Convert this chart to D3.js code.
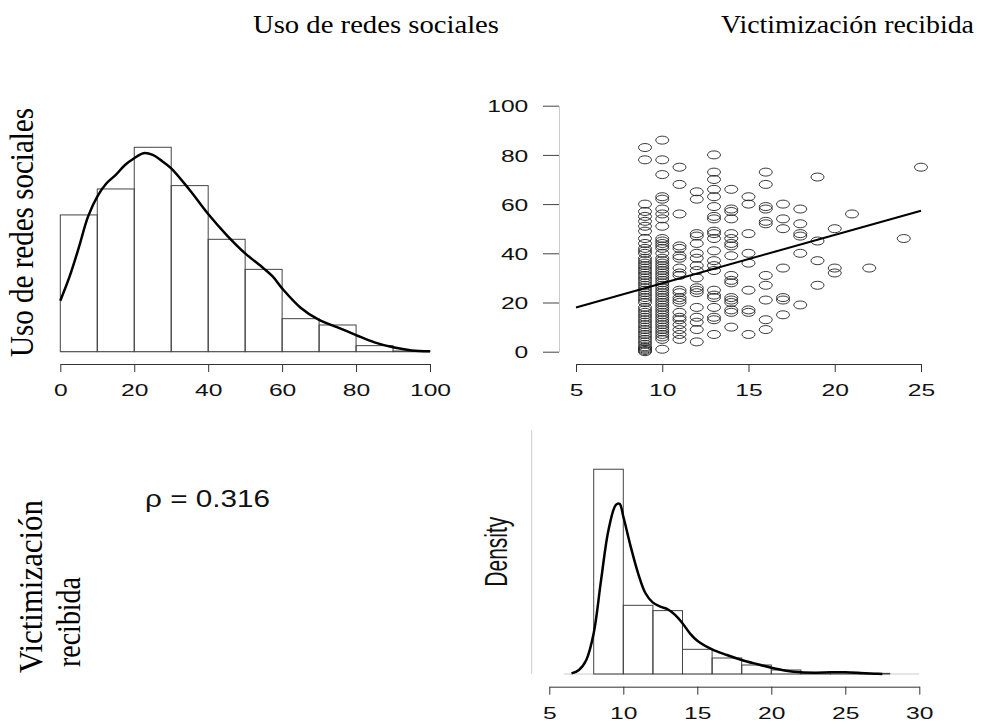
<!DOCTYPE html>
<html><head><meta charset="utf-8">
<script src="https://cdn.jsdelivr.net/npm/d3@7"></script>
<style>body{margin:0;background:#fff} svg{display:block}</style>
</head><body>
<svg id="c" width="983" height="726"></svg>
<script>
// ---------- DATA ----------
const varNames = ["Uso de redes sociales", "Victimización recibida"];
const rhoLabel = "\u03C1 = 0.316";

// Histogram + density of "Uso de redes sociales"
const usoBinEdges = [0,10,20,30,40,50,60,70,80,90,100];
const usoHistDensity = [0.01470,0.01749,0.02197,0.01785,0.01208,0.00885,0.00355,0.00287,0.00065,0.00007];
const usoKdeX = [0,2.5,5,7.5,10,12.5,15,17.5,20,22.5,25,27.5,30,35,40,45,50,55,57.5,60,65,70,75,80,85,90,95,100];
const usoKdeY = [0.00548,0.00806,0.01118,0.01452,0.01667,0.01810,0.01900,0.02007,0.02079,0.02133,0.02115,0.02050,0.01971,0.01738,0.01480,0.01254,0.01057,0.00896,0.00806,0.00681,0.00473,0.00341,0.00262,0.00179,0.00100,0.00047,0.00014,0.00004];
const usoTicks = [0,20,40,60,80,100];

// Histogram + density of "Victimización recibida"
const victBinEdges = [8,10,12,14,16,18,20,22,24,26,28];
const victHistDensity = [0.2597,0.0871,0.0804,0.0313,0.0203,0.0114,0.0051,0.0017,0.0021,0.0008];
const victKdeX = [6.5,7,7.5,8,8.5,9,9.5,9.75,10,10.5,11,11.5,12,12.5,13,13.5,14,14.5,15,16,17,18,19,20,21,22,23,24,25,26,27,27.5];
const victKdeY = [0.0008,0.0051,0.0178,0.0516,0.1193,0.1827,0.2145,0.2157,0.1997,0.1616,0.1277,0.1024,0.0905,0.0854,0.0821,0.0749,0.0643,0.0516,0.0423,0.0313,0.0241,0.0178,0.0127,0.0080,0.0042,0.0021,0.0017,0.0021,0.0021,0.0013,0.0004,0];
const victTicks = [5,10,15,20,25,30];

// Scatter: Victimización (x) vs Uso de redes sociales (y), grouped by x value
const scatterColumns = [9,10,11,12,13,14,15,16,17,18,19,20,21,22,24,25];
const scatterUsoByColumn = [
  [0,0.5,1,1.5,2,3,4,5,6,7,8,9,10,11,12,13,14,15,16,17,18,20,21,22,23,24,25,26,27,28,29,30,31,32,33,34,35,36,37,38,40,41,42,44,46,49,51,53,55,57,60,78,83],
  [1,5,6,7,8,9,10,11,12,13,14,15,16,17,18,19,20,21,22,23,24,25,26,27,28,29,30,31,32,33,34,35,36,37,38,40,42,43,44,45,46,51,54,56,58,62,63,72,78,86],
  [5,7,9,11,13,14,16,20,21,22,24,25,31,32,34,38,39,42,43,56,68,75],
  [4,9,12,14,18,24,25,26,30,33,35,38,40,44,47,48,62,65],
  [7,13,14,18,22,23,25,33,35,37,41,46,48,49,54,55,59,63,66,70,73,80],
  [10,16,17,20,21,22,28,29,31,39,43,44,46,48,54,57,58,66],
  [7,16,17,25,36,40,48,60,63],
  [9,13,21,27,31,52,53,58,59,68,73],
  [15,21,22,34,50,54,60],
  [19,40,47,48,52,58],
  [27,37,45,71],
  [32,34,50],
  [56],
  [34],
  [46],
  [75]
];
const scatterXTicks = [5,10,15,20,25];
const scatterYTicks = [0,20,40,60,80,100];
const fitX = [5,25];
const fitY = [18.0,57.3];

// ---------- DRAW ----------
const svg = d3.select("#c");
const SX = 1.45; // horizontal stretch of glyphs
const sans = "'Liberation Sans', Arial, sans-serif";
const serif = "'Liberation Serif', 'Times New Roman', serif";

function bottomAxis(g, scale, ticks) {
  g.call(d3.axisBottom(scale).tickValues(ticks).tickSize(8).tickSizeOuter(0).tickFormat(d3.format("d")));
  g.select(".domain").attr("stroke","#333").attr("stroke-width",1);
  g.selectAll(".tick line").attr("stroke","#333");
  g.selectAll(".tick text").attr("y",32).attr("dy",0)
    .attr("transform",`scale(${SX},1)`)
    .attr("font-family",sans).attr("font-size",17).attr("fill","#111");
}

// --- Top-left histogram
const xUso = d3.scaleLinear().domain([0,100]).range([60.3,430]);
const yUso = d3.scaleLinear().domain([0,0.022]).range([351.7,147.0]);
const gTL = svg.append("g");
gTL.append("line").attr("x1",xUso(0)).attr("x2",xUso(100)).attr("y1",yUso(0)).attr("y2",yUso(0)).attr("stroke","#bbb");
gTL.selectAll("rect").data(usoHistDensity).join("rect")
  .attr("x",(d,i)=>xUso(usoBinEdges[i]))
  .attr("width",(d,i)=>xUso(usoBinEdges[i+1])-xUso(usoBinEdges[i]))
  .attr("y",d=>yUso(d)).attr("height",d=>yUso(0)-yUso(d))
  .attr("fill","none").attr("stroke","#444").attr("stroke-width",1);
gTL.append("path").datum(usoKdeX.map((x,i)=>[x,usoKdeY[i]]))
  .attr("d",d3.line().x(d=>xUso(d[0])).y(d=>yUso(d[1])).curve(d3.curveCatmullRom))
  .attr("fill","none").attr("stroke","#000").attr("stroke-width",2.5);
gTL.append("g").attr("transform","translate(0,364)").call(g=>bottomAxis(g,xUso,usoTicks));

// --- Top-right scatter
const xSc = d3.scaleLinear().domain([5,25]).range([576,921]);
const ySc = d3.scaleLinear().domain([0,100]).range([351.7,105.7]);
const gTR = svg.append("g");
const pts = [];
scatterColumns.forEach((c,i)=>scatterUsoByColumn[i].forEach(v=>pts.push([c,v])));
gTR.selectAll("ellipse").data(pts).join("ellipse")
  .attr("cx",d=>xSc(d[0])).attr("cy",d=>ySc(d[1]))
  .attr("rx",6.5).attr("ry",4)
  .attr("fill","none").attr("stroke","#222").attr("stroke-width",0.9);
gTR.append("line")
  .attr("x1",xSc(fitX[0])).attr("y1",ySc(fitY[0]))
  .attr("x2",xSc(fitX[1])).attr("y2",ySc(fitY[1]))
  .attr("stroke","#000").attr("stroke-width",2);
gTR.append("g").attr("transform","translate(0,364)").call(g=>bottomAxis(g,xSc,scatterXTicks));
const yAx = gTR.append("g").attr("transform","translate(559,0)")
  .call(d3.axisLeft(ySc).tickValues(scatterYTicks).tickSize(16).tickSizeOuter(0));
yAx.select(".domain").attr("stroke","#ccc");
yAx.selectAll(".tick line").attr("stroke","#444");
yAx.selectAll(".tick text").attr("x",-30.7/SX).attr("dy","0.36em")
  .attr("transform",`scale(${SX},1)`)
  .attr("font-family",sans).attr("font-size",17).attr("fill","#111");

// --- Bottom-right histogram
const xV = d3.scaleLinear().domain([5,30]).range([549.3,919.3]);
const yV = d3.scaleLinear().domain([0,0.26]).range([674,469.0]);
const gBR = svg.append("g");
gBR.append("line").attr("x1",531.7).attr("x2",531.7).attr("y1",430).attr("y2",674).attr("stroke","#ccc");
gBR.append("line").attr("x1",xV(6)).attr("x2",xV(30)).attr("y1",yV(0)).attr("y2",yV(0)).attr("stroke","#ccc");
gBR.selectAll("rect").data(victHistDensity).join("rect")
  .attr("x",(d,i)=>xV(victBinEdges[i]))
  .attr("width",(d,i)=>xV(victBinEdges[i+1])-xV(victBinEdges[i]))
  .attr("y",d=>yV(d)).attr("height",d=>yV(0)-yV(d))
  .attr("fill","none").attr("stroke","#444").attr("stroke-width",1);
gBR.append("path").datum(victKdeX.map((x,i)=>[x,victKdeY[i]]))
  .attr("d",d3.line().x(d=>xV(d[0])).y(d=>yV(d[1])).curve(d3.curveCatmullRom))
  .attr("fill","none").attr("stroke","#000").attr("stroke-width",2.5);
gBR.append("g").attr("transform","translate(0,686.7)").call(g=>bottomAxis(g,xV,victTicks));
svg.append("text").text("Density")
  .attr("transform",`translate(506.5,551.7) scale(${SX},1) rotate(-90)`)
  .attr("text-anchor","middle").attr("font-family",sans).attr("font-size",21)
  .attr("textLength",70).attr("lengthAdjust","spacingAndGlyphs").attr("fill","#111");

// --- Titles and labels
svg.append("text").text(varNames[0]).attr("x",253).attr("y",33)
  .attr("font-family",serif).attr("font-size",25).attr("textLength",246).attr("lengthAdjust","spacingAndGlyphs");
svg.append("text").text(varNames[1]).attr("x",721).attr("y",33)
  .attr("font-family",serif).attr("font-size",25).attr("textLength",253).attr("lengthAdjust","spacingAndGlyphs");
svg.append("text").text(varNames[0])
  .attr("transform",`translate(33,232.5) scale(${SX},1) rotate(-90)`)
  .attr("text-anchor","middle").attr("font-family",serif).attr("font-size",23)
  .attr("textLength",249).attr("lengthAdjust","spacingAndGlyphs");
const victParts = varNames[1].split(" ");
svg.append("text").text(victParts[0])
  .attr("transform",`translate(41.7,586.5) scale(${SX},1) rotate(-90)`)
  .attr("text-anchor","middle").attr("font-family",serif).attr("font-size",23)
  .attr("textLength",173).attr("lengthAdjust","spacingAndGlyphs");
svg.append("text").text(victParts[1])
  .attr("transform",`translate(80,622) scale(${SX},1) rotate(-90)`)
  .attr("text-anchor","middle").attr("font-family",serif).attr("font-size",23)
  .attr("textLength",90).attr("lengthAdjust","spacingAndGlyphs");
svg.append("text").text(rhoLabel).attr("x",145).attr("y",506.7)
  .attr("font-family",sans).attr("font-size",23).attr("fill","#111")
  .attr("textLength",125).attr("lengthAdjust","spacingAndGlyphs");
</script>
</body></html>
